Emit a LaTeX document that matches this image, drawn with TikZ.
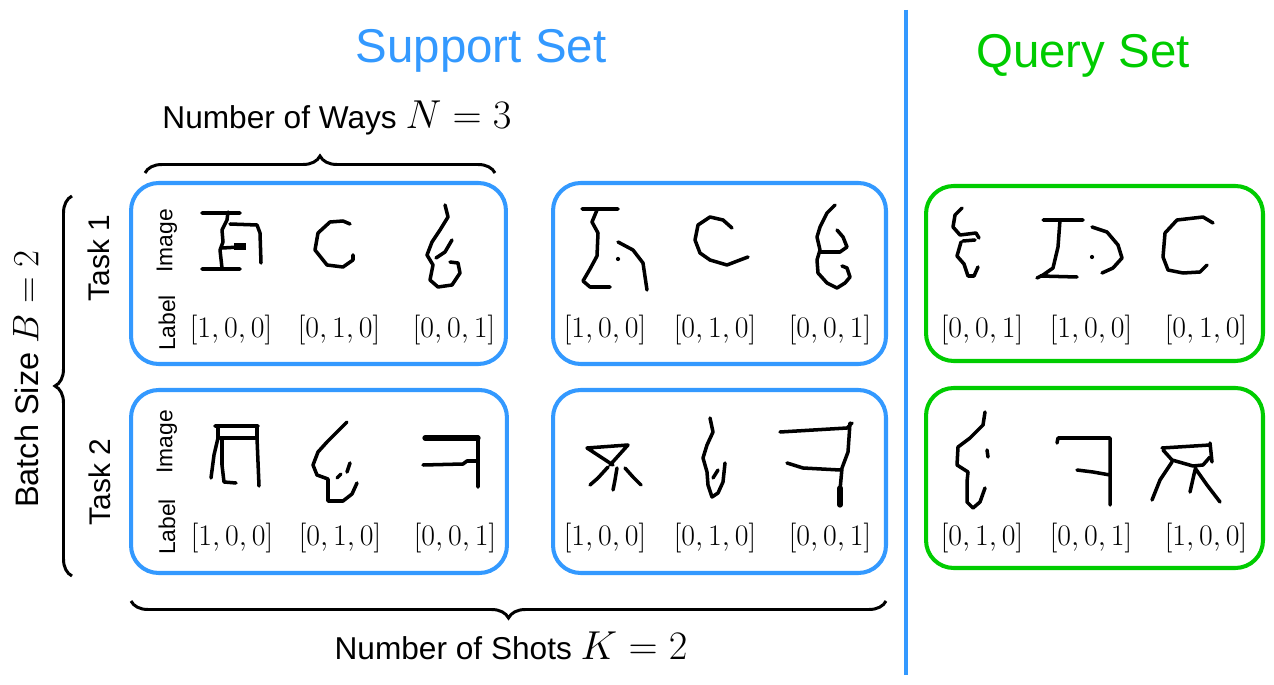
\RequirePackage{fix-cm}
\documentclass[tikz,border=0pt]{standalone}
\usepackage{amsmath}
\usepackage[no-math]{fontspec}
\setmainfont{Liberation Sans}
\usepackage{tikz}
\usetikzlibrary{decorations.pathreplacing}
\definecolor{supblue}{HTML}{3399FF}
\definecolor{qrygreen}{HTML}{00CC00}

\begin{document}
\begin{tikzpicture}[
    x=0.02cm,
    y=-0.02cm,
    supbox/.style={rectangle, rounded corners=0.55cm, draw=supblue, line width=2.3pt},
    qrybox/.style={supbox, draw=qrygreen},
    onehot/.style={font=\fontsize{17}{20}\selectfont, inner sep=0pt},
    rowtag/.style={rotate=90, font=\fontsize{13}{15}\selectfont, inner sep=0pt},
    tasktag/.style={rotate=90, font=\fontsize{17}{20}\selectfont, inner sep=0pt},
    caption/.style={font=\fontsize{18}{22}\selectfont, inner sep=0pt, anchor=base},
    settitle/.style={font=\fontsize{27}{32}\selectfont, inner sep=0pt, anchor=base},
    curly/.style={decorate, decoration={brace, amplitude=0.34cm}, line width=1.7pt},
    ink/.style={line width=2pt, line join=round, line cap=round}
  ]
    \useasboundingbox (0,0) rectangle (1274,685);

    \node[settitle, text=supblue] (suptitle) at (481,63) {Support Set};
    \node[settitle, text=qrygreen] (qrytitle) at (1083,68) {Query Set};
    \coordinate (septop) at (906,10);
    \coordinate (sepbot) at (906,675);
    \draw[supblue, line width=2.3pt] (septop) -- (sepbot);

    \node[supbox, minimum width=7.5cm, minimum height=3.62cm] (t1a) at (318.5,273.5) {};
    \node[supbox, minimum width=6.66cm, minimum height=3.62cm] (t1b) at (719.5,273.5) {};
    \node[qrybox, minimum width=6.74cm, minimum height=3.5cm] (t1q) at (1094.5,273.5) {};
    \node[supbox, minimum width=7.52cm, minimum height=3.66cm] (t2a) at (319,481.5) {};
    \node[supbox, minimum width=6.66cm, minimum height=3.66cm] (t2b) at (719.5,481.5) {};
    \node[qrybox, minimum width=6.74cm, minimum height=3.6cm] (t2q) at (1094.5,478) {};

    \node[rowtag] (img1) at (167,241) {Image};
    \node[rowtag] (lab1) at (167,323) {Label};
    \node[rowtag] (img2) at (167,442) {Image};
    \node[rowtag] (lab2) at (167,527) {Label};
    \node[tasktag] (task1) at (99,258) {Task 1};
    \node[tasktag] (task2) at (100,482) {Task 2};

    \node[onehot] (l1a) at (231,330) {$[1,0,0]$};
    \node[onehot] (l1b) at (339,330) {$[0,1,0]$};
    \node[onehot] (l1c) at (454,330) {$[0,0,1]$};
    \node[onehot] (l1d) at (605,330) {$[1,0,0]$};
    \node[onehot] (l1e) at (715,330) {$[0,1,0]$};
    \node[onehot] (l1f) at (830,330) {$[0,0,1]$};
    \node[onehot] (l1g) at (982,330) {$[0,0,1]$};
    \node[onehot] (l1h) at (1091,330) {$[1,0,0]$};
    \node[onehot] (l1i) at (1206,330) {$[0,1,0]$};
    \node[onehot] (l2a) at (232,538) {$[1,0,0]$};
    \node[onehot] (l2b) at (340,538) {$[0,1,0]$};
    \node[onehot] (l2c) at (455,538) {$[0,0,1]$};
    \node[onehot] (l2d) at (605,538) {$[1,0,0]$};
    \node[onehot] (l2e) at (715,538) {$[0,1,0]$};
    \node[onehot] (l2f) at (830,538) {$[0,0,1]$};
    \node[onehot] (l2g) at (982,538) {$[0,1,0]$};
    \node[onehot] (l2h) at (1091,538) {$[0,0,1]$};
    \node[onehot] (l2i) at (1206,538) {$[1,0,0]$};

    \coordinate (waysL) at (145,173);
    \coordinate (waysR) at (495,173);
    \coordinate (shotsL) at (131,601);
    \coordinate (shotsR) at (886,601);
    \coordinate (batchT) at (72,196);
    \coordinate (batchB) at (72,576);
    \draw[curly] (waysL) -- (waysR);
    \draw[curly] (shotsR) -- (shotsL);
    \draw[curly] (batchB) -- (batchT);
    \node[caption] (ways) at (337,129) {Number of Ways {\fontsize{23}{26}\selectfont$N=3$}};
    \node[caption] (shots) at (511,659) {Number of Shots {\fontsize{23}{26}\selectfont$K=2$}};
    \node[rotate=90, font=\fontsize{18.5}{22}\selectfont, inner sep=0pt] (batch) at (26,379) {Batch Size {\fontsize{21}{24}\selectfont$B=2$}};

    % task 1, support
    \draw[ink] (202,213) -- (240,213) (228,212) -- (227,220) -- (222,230) -- (223,242) -- (220,250) -- (222,268)
      (202,269) -- (240,269) (230,224) -- (257,225) -- (260,233) -- (261,263) (222,248) -- (240,247);
    \fill (234,243) rectangle (246,250);
    \draw[ink] (350,224) -- (343,221) -- (330,222) -- (318,233) -- (315,250) -- (327,265) -- (343,267) -- (353,260) -- (353,255);
    \draw[ink] (445,205) -- (448,217) -- (440,230) -- (432,242) -- (427,255) -- (433,265) -- (430,280) -- (438,287) -- (452,285)
      -- (460,273) -- (458,263) -- (450,262) (452,240) -- (445,252) -- (436,258);
    \draw[ink] (582,209) -- (618,209) (597,210) -- (592,222) -- (598,233) -- (597,256) -- (590,269) -- (583,281) -- (590,287) -- (610,287)
      (618,242) -- (633,250) -- (643,263) -- (647,290);
    \fill (618,259) circle[radius=1.2pt];
    \draw[ink] (732,228) -- (723,220) -- (710,217) -- (698,225) -- (695,240) -- (700,253) -- (710,260) -- (727,265) -- (740,260) -- (748,257);
    \draw[ink] (835,205) -- (827,213) -- (820,227) -- (817,237) -- (820,250) -- (817,260) -- (818,273) -- (827,283) -- (837,288)
      -- (845,283) -- (850,277) -- (847,268) -- (842,266) (837,230) -- (843,237) -- (847,247) -- (840,252) -- (820,252);
    % task 1, query
    \draw[ink] (962,208) -- (955,215) -- (953,227) -- (960,235) -- (976,233) -- (979,238) (963,241) -- (975,240)
      (961,242) -- (957,256) -- (964,264) -- (968,276) -- (974,276) -- (978,267);
    \draw[ink] (1043,220) -- (1083,220) (1060,220) -- (1058,247) -- (1053,268) -- (1043,275) -- (1037,278) (1040,276) -- (1077,277)
      (1092,227) -- (1107,232) -- (1118,245) -- (1122,258) -- (1113,268) -- (1102,273);
    \fill (1092,257) circle[radius=1.2pt];
    \draw[ink] (1213,223) -- (1203,217) -- (1177,220) -- (1165,233) -- (1163,257) -- (1168,270) -- (1183,273) -- (1200,272) -- (1207,265);
    % task 2, support
    \draw[ink] (215,426) -- (258,426) (220,438) -- (255,438) (218,426) -- (218,438) -- (214,455) -- (211,478)
      (222,440) -- (222,465) -- (224,482) -- (236,483) (257,426) -- (257,438) -- (259,486);
    \draw[ink] (347,422) -- (337,432) -- (327,442) -- (318,452) -- (313,465) -- (317,475) -- (328,479) -- (328,501) -- (343,501)
      -- (352,494) -- (357,483) (350,463) -- (347,472) (341,474) -- (337,478);
    \draw[ink] (478,437) -- (478,487) (423,465) -- (463,464) -- (467,461) -- (478,461);
    \draw[ink, line width=3pt] (425,438) -- (478,438);
    \draw[ink] (587,448) -- (628,445) (587,448) -- (613,465) (628,445) -- (610,465) (608,467) -- (598,478) -- (590,485)
      (617,468) -- (615,480) -- (613,490) (625,468) -- (633,477) -- (641,485);
    \draw[ink] (710,418) -- (713,432) -- (707,445) -- (703,458) -- (707,472) -- (708,485) -- (712,497) -- (718,493) -- (723,482)
      -- (725,463) (713,478) -- (718,470);
    \draw[ink] (780,432) -- (847,428) -- (852,423) (850,423) -- (848,452) -- (842,468) -- (840,490) (787,463) -- (803,468) -- (840,470);
    \draw[ink, line width=3pt] (840,488) -- (840,505);
    % task 2, query
    \draw[ink] (985,412) -- (983,425) -- (970,438) -- (958,447) -- (957,465) -- (968,472) -- (967,482) -- (967,502) -- (973,508)
      -- (980,502) -- (985,488) (987,450) -- (988,457);
    \draw[ink] (1057,443) -- (1058,438) -- (1110,438) -- (1110,505) (1077,470) -- (1093,472) -- (1110,475);
    \draw[ink] (1162,448) -- (1210,445) (1210,443) -- (1212,462) (1163,450) -- (1172,460) -- (1193,466) -- (1203,465) -- (1210,457)
      (1172,462) -- (1160,480) -- (1152,500) (1195,468) -- (1207,485) -- (1220,502) (1195,470) -- (1190,492);
\end{tikzpicture}
\end{document}
